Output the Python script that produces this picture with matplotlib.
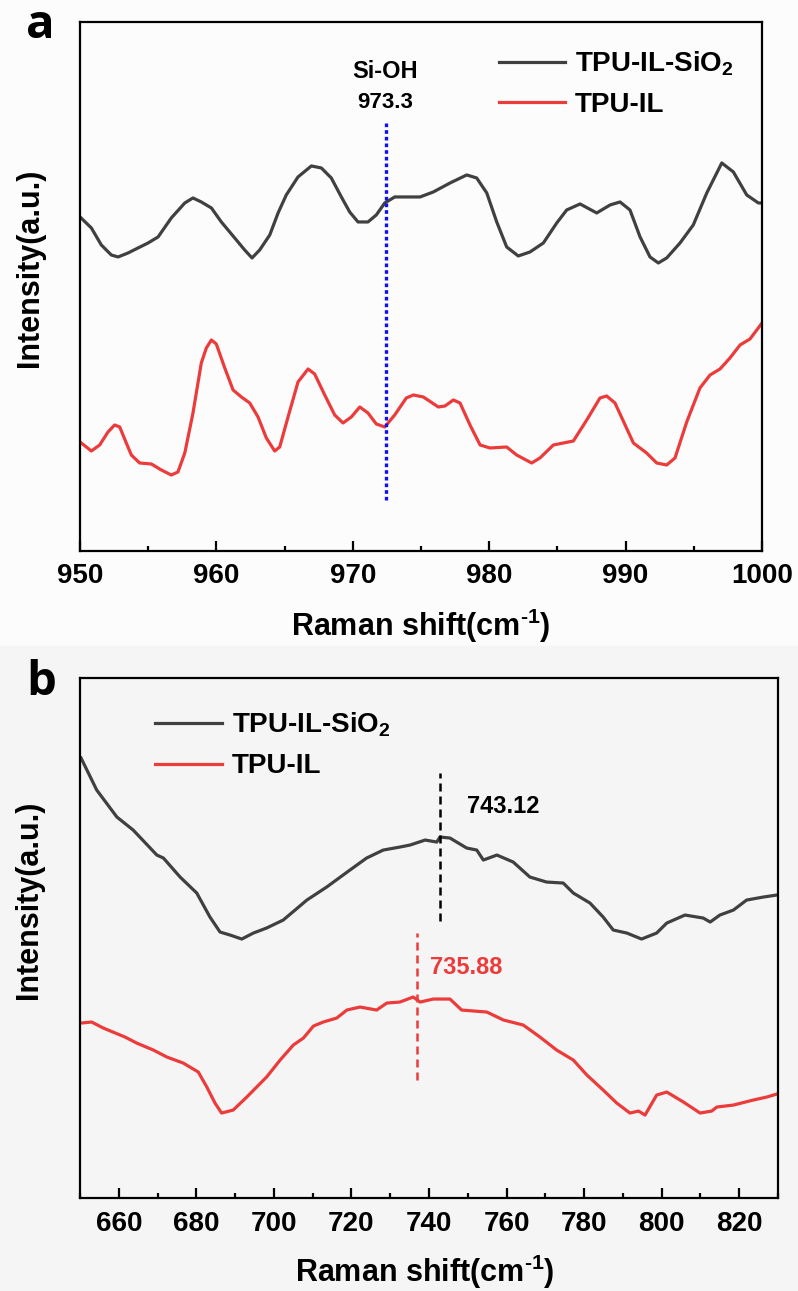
import matplotlib
matplotlib.use("Agg")
import matplotlib.pyplot as plt
from matplotlib.patches import Rectangle
from matplotlib.ticker import MultipleLocator

plt.rcParams['font.family'] = ['Liberation Sans', 'DejaVu Sans']
plt.rcParams['font.weight'] = 'bold'
plt.rcParams['mathtext.fontset'] = 'custom'
plt.rcParams['mathtext.rm'] = 'Liberation Sans:bold'
plt.rcParams['mathtext.bf'] = 'Liberation Sans:bold'
plt.rcParams['mathtext.default'] = 'bf'

# ---- panel a: 950-1000 cm-1 ----
a_wn_sio2 = [950.0, 950.83, 951.56, 952.29, 952.79, 953.52, 954.25, 954.99, 955.72,
             956.69, 957.68, 958.28, 958.89, 959.63, 960.36, 961.34, 962.07, 962.61,
             963.17, 963.91, 964.52, 965.12, 965.98, 966.96, 967.69, 968.42, 969.16,
             969.77, 970.38, 971.11, 971.72, 972.34, 973.07, 974.93, 975.9, 977.13,
             978.35, 979.08, 979.82, 980.55, 981.28, 982.13, 982.99, 983.97, 984.95,
             985.68, 986.66, 987.88, 988.86, 989.59, 990.32, 991.06, 991.79, 992.4,
             993.01, 993.99, 994.96, 995.95, 997.05, 997.9, 998.88, 999.73, 1000.0]
a_int_sio2 = [334, 323, 306, 296, 294, 298, 303, 308, 314, 333, 348, 353, 349, 343,
              329, 313, 301, 293, 301, 316, 338, 356, 374, 385, 383, 373, 354, 339,
              329, 329, 336, 348, 354, 354, 359, 368, 376, 373, 358, 329, 304, 295,
              299, 308, 328, 341, 347, 338, 346, 349, 341, 314, 294, 288, 293, 308,
              326, 358, 388, 379, 356, 348, 348]

a_wn_il = [950.0, 950.83, 951.44, 952.05, 952.54, 952.91, 953.39, 953.76, 954.37,
           955.23, 955.96, 956.69, 957.18, 957.68, 958.28, 958.89, 959.26, 959.63,
           959.99, 960.61, 961.22, 961.83, 962.44, 963.05, 963.66, 964.27, 964.64,
           965.25, 965.98, 966.72, 967.2, 967.94, 968.67, 969.28, 969.89, 970.51,
           971.11, 971.72, 972.34, 973.07, 973.92, 974.44, 975.17, 976.27, 976.76,
           977.37, 977.86, 978.59, 979.33, 980.06, 981.28, 982.01, 983.11, 983.72,
           984.7, 986.17, 987.15, 988.12, 988.61, 989.22, 990.57, 991.54, 992.28,
           993.01, 993.62, 994.48, 995.45, 996.19, 996.92, 997.65, 998.39, 999.12,
           1000.0]
a_int_il = [109, 100, 106, 119, 126, 124, 108, 96, 88, 87, 81, 76, 79, 98, 138, 188,
            203, 211, 207, 183, 161, 154, 148, 134, 113, 100, 104, 134, 169, 182, 177,
            156, 136, 128, 134, 144, 138, 127, 124, 136, 153, 156, 154, 144, 145, 151,
            148, 126, 106, 103, 104, 96, 88, 93, 106, 110, 131, 153, 155, 148, 108, 98,
            88, 86, 93, 129, 163, 176, 182, 193, 206, 212, 228]

a_peak = 972.4
a_peak_label = "973.3"

# ---- panel b: 650-830 cm-1 ----
b_wn_sio2 = [650.26, 654.3, 659.5, 663.7, 669.8, 671.5, 675.8, 680.1, 683.5, 686.1,
             688.7, 691.7, 694.7, 698.1, 702.4, 708.5, 713.6, 719.6, 723.9, 728.2,
             732.5, 735.1, 739.0, 742.0, 742.8, 745.4, 749.7, 752.3, 754.0, 757.5,
             761.7, 766.0, 770.3, 774.6, 777.2, 781.5, 784.9, 787.5, 791.0, 794.8,
             798.7, 801.3, 806.0, 810.7, 812.5, 815.0, 818.5, 821.9, 826.2, 829.7]
b_int_sio2 = [440, 408, 381, 368, 343, 340, 321, 305, 281, 266, 263, 259, 265, 270,
              278, 298, 311, 328, 340, 348, 351, 353, 358, 356, 361, 360, 350, 348,
              338, 343, 336, 321, 316, 315, 305, 295, 281, 268, 265, 259, 265, 275,
              283, 280, 276, 283, 288, 298, 301, 303]

b_wn_il = [650.26, 653.0, 656.0, 661.6, 664.6, 668.9, 672.4, 676.6, 680.5, 682.7,
           684.8, 686.5, 689.5, 693.0, 698.1, 701.6, 705.0, 707.6, 710.2, 712.7,
           716.2, 718.8, 722.2, 726.5, 729.1, 732.5, 735.9, 737.7, 741.1, 745.4,
           748.4, 754.9, 759.2, 764.3, 768.6, 772.9, 777.2, 780.7, 784.9, 788.4,
           791.8, 794.0, 795.7, 798.7, 801.3, 805.6, 809.9, 812.9, 814.2, 818.5,
           823.6, 827.1, 829.7]
b_int_il = [175, 176, 170, 161, 155, 148, 141, 135, 126, 111, 95, 85, 88, 101, 121,
            138, 153, 160, 172, 176, 180, 188, 191, 188, 195, 196, 201, 196, 199,
            199, 188, 186, 178, 173, 161, 148, 138, 123, 108, 95, 85, 87, 83, 103, 106,
            96, 85, 87, 91, 93, 98, 101, 104]

b_peak_sio2 = 742.8
b_peak_il = 736.8
b_label_sio2 = "743.12"
b_label_il = "735.88"

black = '#404040'
red = '#ec3b3b'
xlabel = 'Raman shift(cm$^{\u20101}$)'

fig = plt.figure(figsize=(7.98, 12.91), dpi=100)
fig.patch.set_facecolor('#fcfcfc')
fig.patches.append(Rectangle((0, 0), 1, 0.5, transform=fig.transFigure,
                             color='#f5f5f5', zorder=-10))

ax_a = fig.add_axes([0.1003, 0.5732, 0.8546, 0.4098])
ax_b = fig.add_axes([0.1003, 0.0720, 0.8747, 0.4028])


def style_axis(ax, major, minor):
    ax.set_facecolor('none')
    for sp in ax.spines.values():
        sp.set_linewidth(1.6)
    ax.xaxis.set_major_locator(MultipleLocator(major))
    ax.xaxis.set_minor_locator(MultipleLocator(minor))
    ax.tick_params(axis='x', which='major', direction='in', length=7, width=1.6,
                   labelsize=20, pad=9, top=False)
    ax.tick_params(axis='x', which='minor', direction='in', length=3.5, width=1.6,
                   top=False)
    ax.set_yticks([])
    ax.set_xlabel(xlabel, fontsize=22, fontweight='bold')
    ax.set_ylabel('Intensity(a.u.)', fontsize=22, fontweight='bold')


# panel a
ax_a.plot(a_wn_sio2, a_int_sio2, color=black, lw=2.3, label='TPU-IL-SiO$_2$')
ax_a.plot(a_wn_il, a_int_il, color=red, lw=2.3, label='TPU-IL')
ax_a.plot([a_peak, a_peak], [51, 429], color='#1010f0', lw=2.4,
          linestyle=(0, (1.1, 0.9)))
ax_a.text(a_peak, 479, 'Si-OH', ha='center', va='center', fontsize=17)
ax_a.text(a_peak, 448, a_peak_label, ha='center', va='center', fontsize=16)
ax_a.set_xlim(950, 1000)
ax_a.set_ylim(0, 529)
style_axis(ax_a, 10, 5)
ax_a.xaxis.set_label_coords(0.5, -0.105)
ax_a.yaxis.set_label_coords(-0.052, 0.535)
ax_a.legend(loc='upper left', bbox_to_anchor=(0.577, 0.995), frameon=False,
            fontsize=20, handlelength=2.4, handletextpad=0.35, labelspacing=0.5)
fig.text(0.033, 0.980, 'a', fontsize=34, fontweight='bold', family='Open Sans',
         ha='left', va='center')

# panel b
ax_b.plot(b_wn_sio2, b_int_sio2, color=black, lw=2.3, label='TPU-IL-SiO$_2$')
ax_b.plot(b_wn_il, b_int_il, color=red, lw=2.3, label='TPU-IL')
ax_b.plot([b_peak_sio2, b_peak_sio2], [277, 425], color='black', lw=1.8,
          linestyle=(0, (3.2, 2.0)))
ax_b.plot([b_peak_il, b_peak_il], [118, 265], color=red, lw=1.8,
          linestyle=(0, (3.2, 2.0)))
ax_b.text(749.7, 392, b_label_sio2, ha='left', va='center', fontsize=17, color='black')
ax_b.text(740.3, 231, b_label_il, ha='left', va='center', fontsize=17, color=red)
ax_b.set_xlim(650, 830)
ax_b.set_ylim(0, 520)
style_axis(ax_b, 20, 10)
ax_b.xaxis.set_label_coords(0.494, -0.105)
ax_b.yaxis.set_label_coords(-0.051, 0.573)
ax_b.legend(loc='upper left', bbox_to_anchor=(0.072, 0.985), frameon=False,
            fontsize=20, handlelength=2.4, handletextpad=0.35, labelspacing=0.5)
fig.text(0.033, 0.4717, 'b', fontsize=34, fontweight='bold', family='Open Sans',
         ha='left', va='center')

fig.savefig('out.png', dpi=100, facecolor=fig.get_facecolor())
